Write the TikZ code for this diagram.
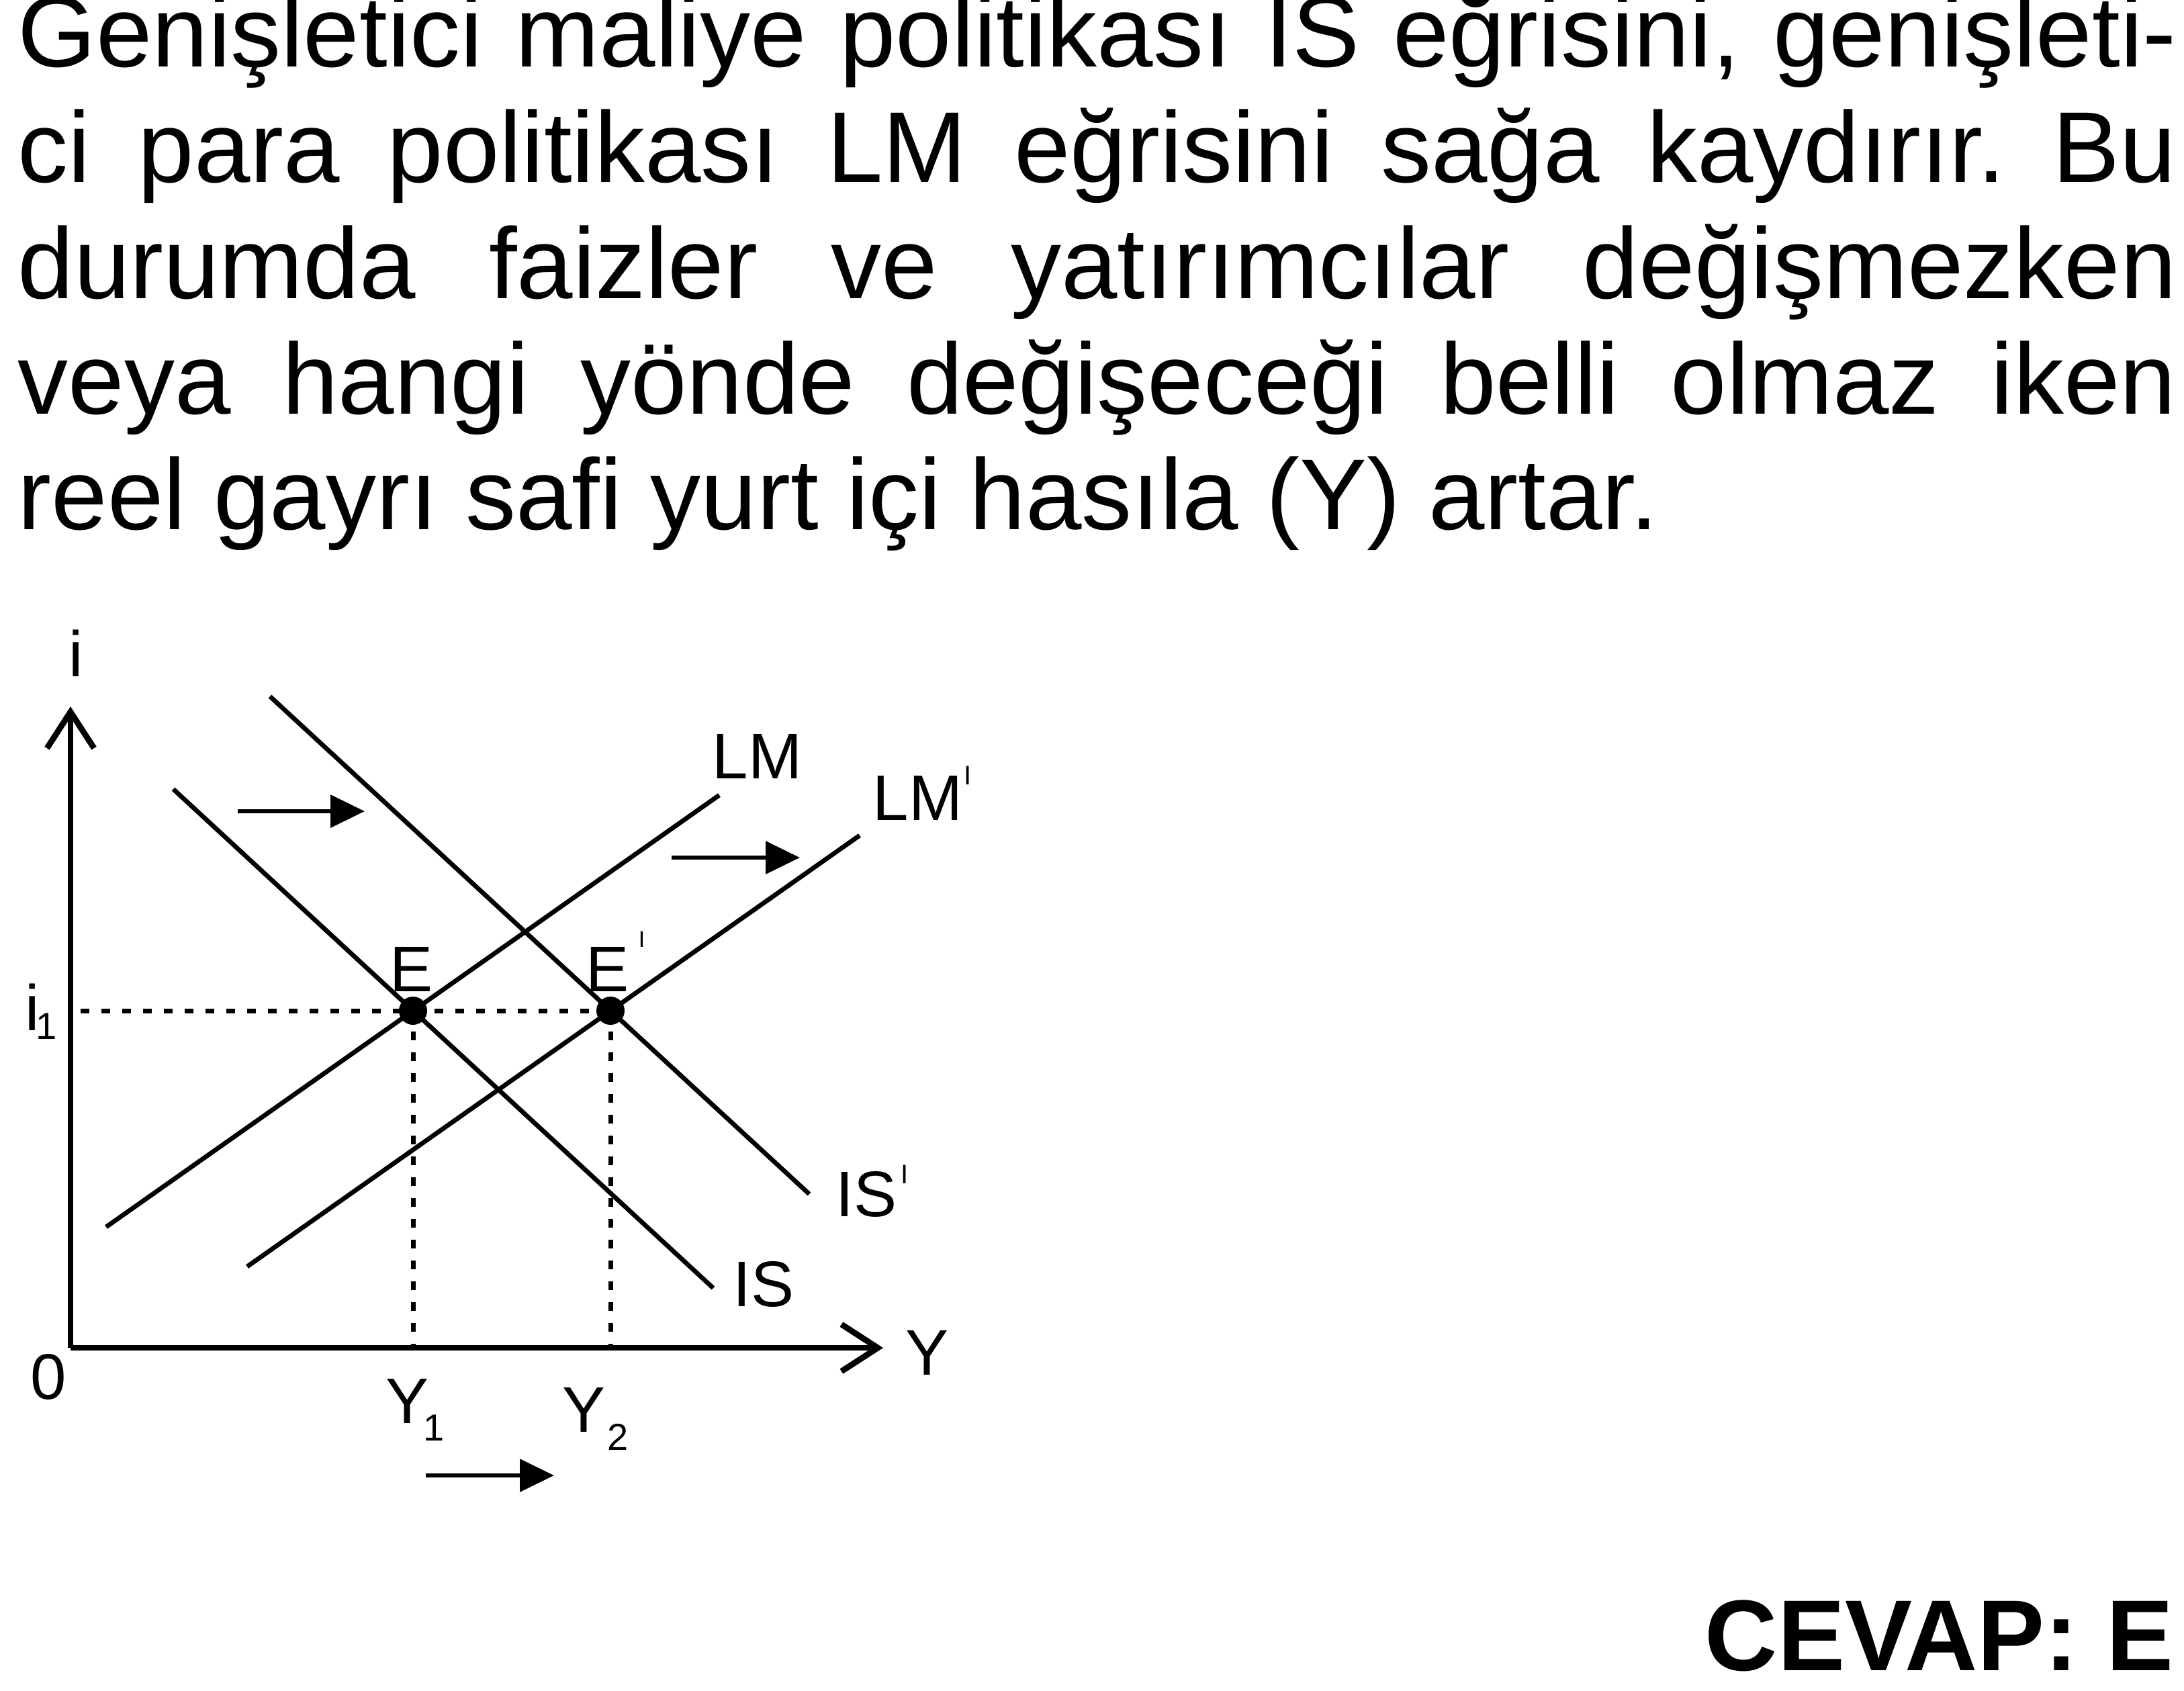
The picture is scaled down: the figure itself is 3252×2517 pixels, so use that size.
\documentclass[tikz,border=0pt]{standalone}
\usepackage{fontspec}
\setmainfont{Liberation Sans}
\usetikzlibrary{arrows.meta}
\newcommand\myprime[3]{\hspace{#1}\raisebox{#2}{\fontsize{#3}{#3}\selectfont I}}
\newcommand\mysub[3]{\hspace{#1}\raisebox{#2}{\fontsize{14}{14}\selectfont #3}}
\frenchspacing
\begin{document}
\begin{tikzpicture}[x=0.25pt,y=-0.25pt,
  curve/.style={line width=1.7pt},
  axisline/.style={line width=1.8pt,-{Straight Barb[length=13.5pt,width=17.5pt,line width=2.2pt]}},
  guide/.style={line width=1.75pt,dash pattern=on 3.25pt off 4.5pt},
  shiftarrow/.style={line width=1.6pt,-{Triangle[length=12.75pt,width=12pt]}},
  eqdot/.style={circle,fill=black,inner sep=0pt,minimum size=10.5pt},
  lbl/.style={inner sep=0pt,font=\fontsize{24}{24}\selectfont},
  body/.style={inner sep=0pt,anchor=base west,font=\fontsize{37.5}{43}\selectfont}]
\useasboundingbox (0,0) rectangle (3252,2517);
% text
\node[body] (l1) at (26,99) {\makebox[803.5pt][s]{Genişletici maliye politikası IS eğrisini, genişleti-}};
\node[body] (l2) at (26,271) {\makebox[803.5pt][s]{ci para politikası LM eğrisini sağa kaydırır. Bu}};
\node[body] (l3) at (26,444) {\makebox[803.5pt][s]{durumda faizler ve yatırımcılar değişmezken}};
\node[body] (l4) at (26,616) {\makebox[803.5pt][s]{veya hangi yönde değişeceği belli olmaz iken}};
\node[body] (l5) at (26,788) {reel gayrı safi yurt içi hasıla (Y) artar.};
\node[inner sep=0pt,anchor=base east,font=\fontsize{37.5}{43}\selectfont\bfseries] (ans) at (3237,2487) {CEVAP: E};
% axes
\coordinate (O) at (105,2007);
\coordinate (ytip) at (105,1052);
\coordinate (xtip) at (1315,2007);
\draw[axisline] (O) -- (ytip);
\draw[axisline] (O) -- (xtip);
% equilibrium points
\node[eqdot] (E) at (615,1505) {};
\node[eqdot] (Ep) at (909,1505) {};
\coordinate (iax) at (105,1505);
\coordinate (Y1ax) at (615,2007);
\coordinate (Y2ax) at (909,2007);
\draw[guide,dash phase=4pt] (iax) -- (Ep.center);
\draw[guide] (E.center) -- (Y1ax);
\draw[guide] (Ep.center) -- (Y2ax);
% curves
\coordinate (LMa) at (158,1827);  \coordinate (LMb) at (1071,1184);
\coordinate (LMpa) at (368,1886); \coordinate (LMpb) at (1280,1244);
\coordinate (ISa) at (258,1175);  \coordinate (ISb) at (1062,1918);
\coordinate (ISpa) at (402,1037); \coordinate (ISpb) at (1205,1778);
\draw[curve] (LMa) -- (LMb);
\draw[curve] (LMpa) -- (LMpb);
\draw[curve] (ISa) -- (ISb);
\draw[curve] (ISpa) -- (ISpb);
% shift arrows
\coordinate (a1s) at (354,1208); \coordinate (a1e) at (543,1208);
\coordinate (a2s) at (1000,1277); \coordinate (a2e) at (1191,1277);
\coordinate (a3s) at (634,2197); \coordinate (a3e) at (825,2197);
\draw[shiftarrow] (a1s) -- (a1e);
\draw[shiftarrow] (a2s) -- (a2e);
\draw[shiftarrow] (a3s) -- (a3e);
% labels
\node[lbl,anchor=base] (li) at (113,1007) {i};
\node[lbl,anchor=base] (l0) at (72,2083) {0};
\node[lbl,anchor=base] (lY) at (1380,2047) {Y};
\node[lbl,anchor=base west] (li1) at (37,1534) {i\mysub{-1.5pt}{-3.25pt}{1}};
\node[lbl,anchor=base west] (lLM) at (1060,1159) {LM};
\node[lbl,anchor=base west] (lLMp) at (1299,1221) {LM\myprime{0.5pt}{13.25pt}{10}};
\node[lbl,anchor=base west] (lE) at (580,1476) {E};
\node[lbl,anchor=base west] (lEp) at (872,1476) {E\myprime{3.5pt}{16.5pt}{8.5}};
\node[lbl,anchor=base west] (lIS) at (1091,1945) {IS};
\node[lbl,anchor=base west] (lISp) at (1244,1811) {IS\myprime{1.5pt}{12.25pt}{10}};
\node[lbl,anchor=base west] (lY1) at (574,2119) {Y\mysub{-2pt}{-6.5pt}{1}};
\node[lbl,anchor=base west] (lY2) at (837,2132) {Y\mysub{0.75pt}{-6.75pt}{2}};
\end{tikzpicture}
\end{document}
